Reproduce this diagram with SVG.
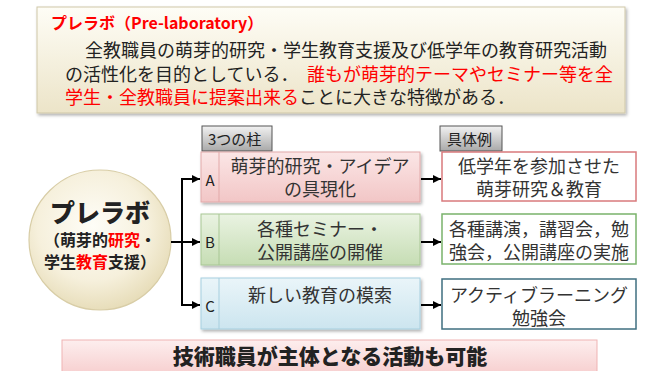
<svg xmlns="http://www.w3.org/2000/svg" width="646" height="371" viewBox="0 0 646 371">
<defs>
<linearGradient id="gTop" x1="0" y1="0" x2="0" y2="1"><stop offset="0" stop-color="#fefdf6"/><stop offset="1" stop-color="#ece4c8"/></linearGradient>
<linearGradient id="gTab" x1="0" y1="0" x2="0" y2="1"><stop offset="0" stop-color="#f2f2f2"/><stop offset="1" stop-color="#a9a9a9"/></linearGradient>
<linearGradient id="gA" x1="0" y1="0" x2="0" y2="1"><stop offset="0" stop-color="#fbe6e6"/><stop offset="1" stop-color="#f2c6c6"/></linearGradient>
<linearGradient id="gB" x1="0" y1="0" x2="0" y2="1"><stop offset="0" stop-color="#eaf3e2"/><stop offset="1" stop-color="#c6ddb4"/></linearGradient>
<linearGradient id="gC" x1="0" y1="0" x2="0" y2="1"><stop offset="0" stop-color="#eaf5f9"/><stop offset="1" stop-color="#cce5ef"/></linearGradient>
<linearGradient id="gBar" x1="0" y1="0" x2="0" y2="1"><stop offset="0" stop-color="#fdeeee"/><stop offset="1" stop-color="#f7cfcf"/></linearGradient>
<radialGradient id="gCirc" cx="0.45" cy="0.4" r="0.65"><stop offset="0" stop-color="#fefdf7"/><stop offset="0.6" stop-color="#f6f0dc"/><stop offset="1" stop-color="#e4d9b2"/></radialGradient>
<filter id="sh" x="-10%" y="-10%" width="125%" height="130%"><feDropShadow dx="1.5" dy="2" stdDeviation="1.5" flood-color="#000" flood-opacity="0.3"/></filter>
<marker id="ar" markerUnits="userSpaceOnUse" markerWidth="9" markerHeight="9" refX="8" refY="4.5" orient="auto"><path d="M0,0.5 L8,4.5 L0,8.5 z" fill="#000"/></marker>
</defs>
<style>
text{font-family:"Noto Sans CJK JP","Noto Sans",sans-serif;fill:#222}
.red{fill:#ff0000}
.t17{font-size:18px;text-anchor:middle;fill:#333}
.let{font-size:15px;text-anchor:middle;fill:#222}
.tab{font-size:15px;fill:#222}
.conn line{stroke:#000;stroke-width:2}
</style>

<g id="intro">
<rect x="37" y="7" width="588" height="106" fill="url(#gTop)" stroke="#cfc7a8" stroke-width="1" filter="url(#sh)"/>
<text x="51" y="29" font-size="16" font-weight="bold" class="red">プレラボ（Pre-laboratory）</text>
<text x="85" y="57" font-size="18">全教職員の萌芽的研究・学生教育支援及び低学年の教育研究活動</text>
<text x="65" y="81" font-size="18">の活性化を目的としている．<tspan x="307" class="red">誰もが萌芽的テーマやセミナー等を全</tspan></text>
<text x="65" y="104" font-size="18"><tspan class="red">学生・全教職員に提案出来る</tspan>ことに大きな特徴がある．</text>
</g>

<g id="center">
<ellipse cx="100" cy="240" rx="71" ry="70" fill="url(#gCirc)" stroke="#d8cda6" stroke-width="1.2"/>
<text x="100" y="222" font-size="25" font-weight="900" text-anchor="middle" fill="#111">プレラボ</text>
<text x="100" y="246" font-size="16" font-weight="bold" text-anchor="middle" fill="#111">（萌芽的<tspan class="red">研究</tspan>・</text>
<text x="100" y="268" font-size="16" font-weight="bold" text-anchor="middle" fill="#111">学生<tspan class="red">教育</tspan>支援）</text>
</g>

<g id="tab-pillars">
<rect x="202" y="126" width="70" height="25" fill="url(#gTab)" stroke="#555" stroke-width="1"/>
<text x="208" y="145" class="tab">3つの柱</text>
</g>
<g id="tab-examples">
<rect x="440" y="126" width="62" height="25" fill="url(#gTab)" stroke="#555" stroke-width="1"/>
<text x="447" y="145" class="tab">具体例</text>
</g>

<g id="pillarA">
<rect x="201" y="152" width="219" height="50" fill="url(#gA)" stroke="#e2a9a9" stroke-width="1" filter="url(#sh)"/>
<line x1="219" y1="152" x2="219" y2="202" stroke="#e2a9a9" stroke-width="1"/>
<text x="210" y="186" class="let">A</text>
<text x="320" y="173" class="t17">萌芽的研究・アイデア</text>
<text x="320" y="196" class="t17">の具現化</text>
</g>
<g id="pillarB">
<rect x="201" y="214" width="219" height="51" fill="url(#gB)" stroke="#a8c794" stroke-width="1" filter="url(#sh)"/>
<line x1="219" y1="214" x2="219" y2="265" stroke="#a8c794" stroke-width="1"/>
<text x="210" y="248" class="let">B</text>
<text x="320" y="236" class="t17">各種セミナー・</text>
<text x="320" y="259" class="t17">公開講座の開催</text>
</g>
<g id="pillarC">
<rect x="201" y="278" width="219" height="51" fill="url(#gC)" stroke="#a6cfdf" stroke-width="1" filter="url(#sh)"/>
<line x1="219" y1="278" x2="219" y2="329" stroke="#a6cfdf" stroke-width="1"/>
<text x="210" y="312" class="let">C</text>
<text x="320" y="302" class="t17">新しい教育の模索</text>
</g>

<g id="exampleA">
<rect x="442" y="152" width="194" height="49" fill="#fff" stroke="#d97a7c" stroke-width="1.5"/>
<text x="539" y="173" class="t17">低学年を参加させた</text>
<text x="539" y="196" class="t17">萌芽研究＆教育</text>
</g>
<g id="exampleB">
<rect x="442" y="214" width="194" height="50" fill="#fff" stroke="#79b36b" stroke-width="1.5"/>
<text x="539" y="236" class="t17">各種講演，講習会，勉</text>
<text x="539" y="259" class="t17">強会，公開講座の実施</text>
</g>
<g id="exampleC">
<rect x="442" y="279" width="194" height="50" fill="#fff" stroke="#3f6f80" stroke-width="1.5"/>
<text x="539" y="302" class="t17">アクティブラーニング</text>
<text x="539" y="325" class="t17">勉強会</text>
</g>

<g id="note">
<rect x="62" y="340" width="535" height="34" fill="url(#gBar)" stroke="#efb3b3" stroke-width="1"/>
<text x="330" y="364" font-size="21" font-weight="900" text-anchor="middle" fill="#111">技術職員が主体となる活動も可能</text>
</g>

<g id="connectors" class="conn">
<line x1="182" y1="179" x2="182" y2="305"/>
<line x1="171" y1="242" x2="182" y2="242"/>
<line x1="181" y1="179" x2="200" y2="179" marker-end="url(#ar)"/>
<line x1="182" y1="242" x2="200" y2="242" marker-end="url(#ar)"/>
<line x1="181" y1="305" x2="200" y2="305" marker-end="url(#ar)"/>
<line x1="421" y1="179" x2="441" y2="179" marker-end="url(#ar)"/>
<line x1="421" y1="242" x2="441" y2="242" marker-end="url(#ar)"/>
<line x1="421" y1="305" x2="441" y2="305" marker-end="url(#ar)"/>
</g>
</svg>
